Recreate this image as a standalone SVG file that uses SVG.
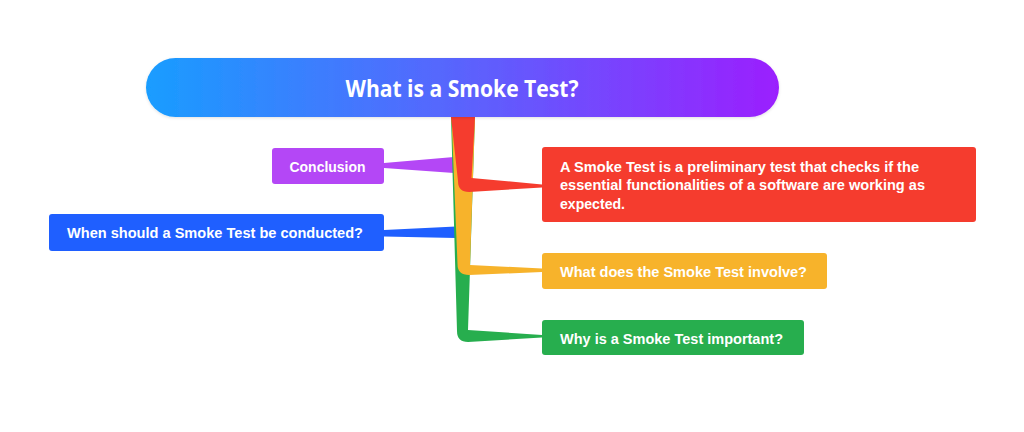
<svg xmlns="http://www.w3.org/2000/svg" width="1024" height="432" viewBox="0 0 1024 432">
  <defs>
    <linearGradient id="rootGrad" x1="0" y1="0" x2="1" y2="0">
      <stop offset="0" stop-color="#199dff"/>
      <stop offset="0.5" stop-color="#5a63fd"/>
      <stop offset="1" stop-color="#9b1ffe"/>
    </linearGradient>
    <filter id="shadow" x="-5%" y="-30%" width="110%" height="160%">
      <feDropShadow dx="0" dy="1" stdDeviation="1.5" flood-color="#000" flood-opacity="0.12"/>
    </filter>
  </defs>
  <style>
    .lbl { font-family: "Open Sans", "Noto Sans", "Liberation Sans", sans-serif; font-weight: bold; fill: #ffffff; }
    .small { font-family: "Liberation Sans", Arial, sans-serif; font-size: 15.5px; }
    .box { stroke: none; }
  </style>
  <rect width="1024" height="432" fill="#ffffff"/>

  <g id="connectors">
    <path d="M454,157 L454,173 L384,168 L384,163 Z" fill="#b447f6"/>
    <path d="M456,226.5 L456,238 L384,236.5 L384,230 Z" fill="#1f5fff"/>
    <path d="M451,117 L475,117 L468,330 L542,335 L542,337.5 L468,342 Q457,342 457,331 Z" fill="#27ae4e"/>
    <path d="M451.5,117 L475,117 L470,265 L542,268.5 L542,272 L469,275 Q457.5,275 457.5,264 Z" fill="#f7b32b"/>
    <path d="M451,117 L475,117 L471.5,178 L542,184.5 L542,187.5 L469,192 Q458,192 458,181 Z" fill="#f53c2e"/>
  </g>

  <g id="root">
    <rect x="146" y="58" width="633" height="59" rx="29.5" fill="url(#rootGrad)" filter="url(#shadow)"/>
    <text class="lbl" x="462" y="97" font-size="24" text-anchor="middle" textLength="233" lengthAdjust="spacingAndGlyphs">What is a Smoke Test?</text>
  </g>

  <g id="node-conclusion">
    <rect class="box" x="272" y="148" width="112" height="36" rx="3" fill="#b447f6"/>
    <text class="lbl small" x="327.5" y="172" text-anchor="middle" textLength="76" lengthAdjust="spacingAndGlyphs">Conclusion</text>
  </g>

  <g id="node-when">
    <rect class="box" x="49" y="214" width="335" height="37" rx="3" fill="#1f5fff"/>
    <text class="lbl small" x="67" y="238" textLength="296" lengthAdjust="spacingAndGlyphs">When should a Smoke Test be conducted?</text>
  </g>

  <g id="node-definition">
    <rect class="box" x="542" y="147" width="434" height="75" rx="3" fill="#f53c2e"/>
    <text class="lbl small" x="560" y="171.5" textLength="359" lengthAdjust="spacingAndGlyphs">A Smoke Test is a preliminary test that checks if the</text>
    <text class="lbl small" x="560" y="190" textLength="365" lengthAdjust="spacingAndGlyphs">essential functionalities of a software are working as</text>
    <text class="lbl small" x="560" y="208.5" textLength="65" lengthAdjust="spacingAndGlyphs">expected.</text>
  </g>

  <g id="node-involve">
    <rect class="box" x="542" y="253" width="285" height="36" rx="3" fill="#f7b32b"/>
    <text class="lbl small" x="560" y="277" textLength="247" lengthAdjust="spacingAndGlyphs">What does the Smoke Test involve?</text>
  </g>

  <g id="node-important">
    <rect class="box" x="542" y="320" width="262" height="35" rx="3" fill="#27ae4e"/>
    <text class="lbl small" x="560" y="344" textLength="223" lengthAdjust="spacingAndGlyphs">Why is a Smoke Test important?</text>
  </g>
</svg>
